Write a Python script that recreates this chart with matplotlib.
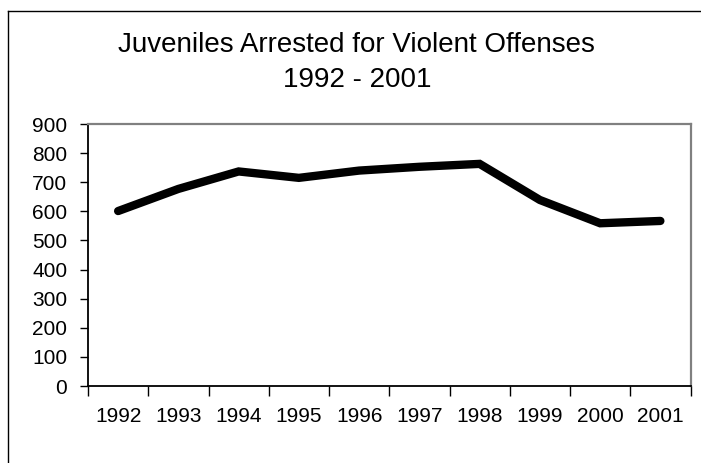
import numpy as np
import matplotlib
matplotlib.use("Agg")
import matplotlib.pyplot as plt
from matplotlib.lines import Line2D

plt.rcParams['font.family'] = ['Liberation Sans', 'DejaVu Sans']

# data
years = ['1992', '1993', '1994', '1995', '1996', '1997', '1998', '1999', '2000', '2001']
arrests = [601, 677, 737, 715, 740, 753, 763, 639, 559, 567]
yticks = [0, 100, 200, 300, 400, 500, 600, 700, 800, 900]

W, H = 701, 463
fig = plt.figure(figsize=(W / 100, H / 100), dpi=100)
ax = fig.add_axes([88 / W, 1 - 386 / H, (690.5 - 88) / W, (386 - 124) / H])

x = np.arange(len(years))
ax.plot(x, arrests, color='black', lw=6, solid_joinstyle='miter', solid_capstyle='round')

ax.set_xlim(-0.5, len(years) - 0.5)
ax.set_ylim(0, 900)
ax.set_yticks(yticks)
ax.tick_params(axis='y', labelsize=15, length=6, width=1, pad=9, direction='out')

# tick marks between categories, labels in the middle
ax.set_xticks(np.arange(-0.5, len(years)), labels=[''] * (len(years) + 1))
ax.set_xticks(x, labels=years, minor=True)
ax.tick_params(axis='x', which='major', length=7, width=1, direction='out')
ax.tick_params(axis='x', which='minor', length=0, labelsize=15, pad=15)

for s in ['left', 'bottom']:
    ax.spines[s].set_color('black')
    ax.spines[s].set_linewidth(1.3)
for s in ['top', 'right']:
    ax.spines[s].set_color('#808080')
    ax.spines[s].set_linewidth(1.6)

fig.text(356 / W, 1 - 45 / H, 'Juveniles Arrested for Violent Offenses',
         ha='center', va='center', fontsize=20)
fig.text(357 / W, 1 - 80 / H, '1992 - 2001', ha='center', va='center', fontsize=20)

# outer chart frame (only top and left edges visible)
fig.add_artist(Line2D([7.5 / W, 1.0], [1 - 10.5 / H, 1 - 10.5 / H], color='black', lw=1))
fig.add_artist(Line2D([7.5 / W, 7.5 / W], [0.0, 1 - 10.5 / H], color='black', lw=1))

fig.savefig('out.png', dpi=100)
